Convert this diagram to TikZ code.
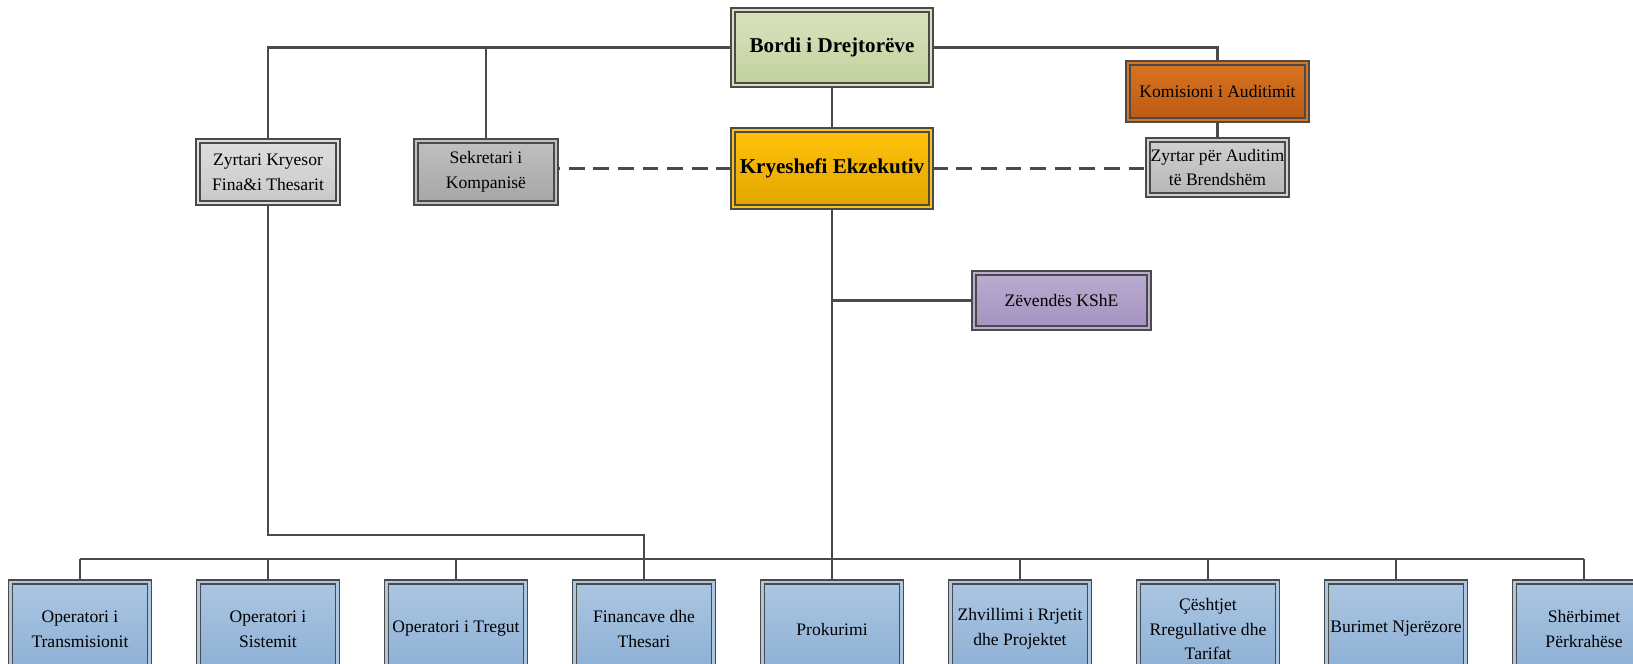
\documentclass[tikz,border=0pt]{standalone}
\usepackage{fontspec}
\setmainfont{Liberation Serif}
\usetikzlibrary{shadows}

\definecolor{lineGray}{HTML}{4A4A4A}
\definecolor{bordTop}{HTML}{D8E2BE}
\definecolor{bordBot}{HTML}{C3D29E}
\definecolor{kseTop}{HTML}{FFC20A}
\definecolor{kseBot}{HTML}{E2A500}
\definecolor{komTop}{HTML}{D9741F}
\definecolor{komBot}{HTML}{BC5913}
\definecolor{lgTop}{HTML}{DEDEDE}
\definecolor{lgBot}{HTML}{C8C8C8}
\definecolor{dgTop}{HTML}{C0C0C0}
\definecolor{dgBot}{HTML}{A6A6A6}
\definecolor{mgTop}{HTML}{D0D0D0}
\definecolor{mgBot}{HTML}{B6B6B6}
\definecolor{zevTop}{HTML}{BAACD0}
\definecolor{zevBot}{HTML}{A392C0}
\definecolor{depTop}{HTML}{ABC6E1}
\definecolor{depBot}{HTML}{8CAFD5}

\begin{document}
\begin{tikzpicture}[x=0.02cm, y=-0.02cm,
  box/.style={draw=lineGray, line width=0.9pt, double distance=1.2pt, align=center, inner sep=0pt,
    drop shadow={shadow xshift=1.5pt, shadow yshift=-1.5pt, opacity=0.2},
    font=\fontsize{10}{14}\selectfont},
  shade2/.style 2 args={top color=#1, bottom color=#2, double=#1},
  bigbox/.style={box, font=\bfseries\fontsize{12}{14}\selectfont, minimum width=3.96cm},
  dept/.style={box, shade2={depTop}{depBot}, minimum width=2.78cm, minimum height=1.88cm},
  conn/.style={draw=lineGray, line width=1.2pt},
  dconn/.style={conn, dash pattern=on 9pt off 5pt}]

\useasboundingbox (0,0) rectangle (1633,663);

% top of the chart
\node[bigbox, shade2={bordTop}{bordBot}, minimum height=1.5cm] (bord) at (832,47.5) {Bordi i Drejtorëve};
\node[bigbox, shade2={kseTop}{kseBot}, minimum height=1.54cm] (kse) at (832,168.5) {Kryeshefi Ekzekutiv};

\node[box, shade2={komTop}{komBot}, minimum width=3.58cm, minimum height=1.14cm] (kom) at (1217.5,91.5) {Komisioni i Auditimit};
\node[box, shade2={lgTop}{lgBot}, minimum width=2.8cm, minimum height=1.24cm] (zkf) at (268,172) {Zyrtari Kryesor\\Fina\&i Thesarit};
\node[box, shade2={dgTop}{dgBot}, minimum width=2.8cm, minimum height=1.24cm] (sek) at (486,172) {Sekretari i\\Kompanisë};
\node[box, shade2={mgTop}{mgBot}, minimum width=2.78cm, minimum height=1.1cm] (zab) at (1217.5,167.5) {Zyrtar për Auditim\\të Brendshëm};
\node[box, shade2={zevTop}{zevBot}, minimum width=3.5cm, minimum height=1.1cm] (zev) at (1061.5,300.5) {Zëvendës KShE};

% departments
\node[dept] (d1) at (80,629) {Operatori i\\Transmisionit};
\node[dept] (d2) at (268,629) {Operatori i\\Sistemit};
\node[dept] (d3) at (456,629) {Operatori i Tregut};
\node[dept] (d4) at (644,629) {Financave dhe\\Thesari};
\node[dept] (d5) at (832,629) {Prokurimi};
\node[dept] (d6) at (1020,629) {Zhvillimi i Rrjetit\\dhe Projektet};
\node[dept] (d7) at (1208,629) {Çështjet\\Rregullative dhe\\Tarifat};
\node[dept] (d8) at (1396,629) {Burimet Njerëzore};
\node[dept] (d9) at (1584,629) {Shërbimet\\Përkrahëse};

\coordinate (bus) at (832,559);
\coordinate (fk) at (644,535);

% lines
\draw[conn] (bord.west) -| (zkf.north);
\draw[conn] (sek.north) -- (sek.north |- bord.west);
\draw[conn] (bord.east) -| (kom.north);
\draw[conn] (bord.south) -- (kse.north);
\draw[conn] (kom.south) -- (zab.north);
\draw[dconn] (kse.west) -- (kse.west -| sek.east);
\draw[dconn] (kse.east) -- (kse.east -| zab.west);
\draw[conn] (kse.south) -- (d5.north);
\draw[conn] (zev.west) -- (zev.west -| kse.south);
\draw[conn] (zkf.south) |- (fk) -- (d4.north);

\draw[conn] (d1.north |- bus) -- (d9.north |- bus);
\draw[conn] (d1.north) -- (d1.north |- bus);
\draw[conn] (d2.north) -- (d2.north |- bus);
\draw[conn] (d3.north) -- (d3.north |- bus);
\draw[conn] (d6.north) -- (d6.north |- bus);
\draw[conn] (d7.north) -- (d7.north |- bus);
\draw[conn] (d8.north) -- (d8.north |- bus);
\draw[conn] (d9.north) -- (d9.north |- bus);
\end{tikzpicture}
\end{document}
